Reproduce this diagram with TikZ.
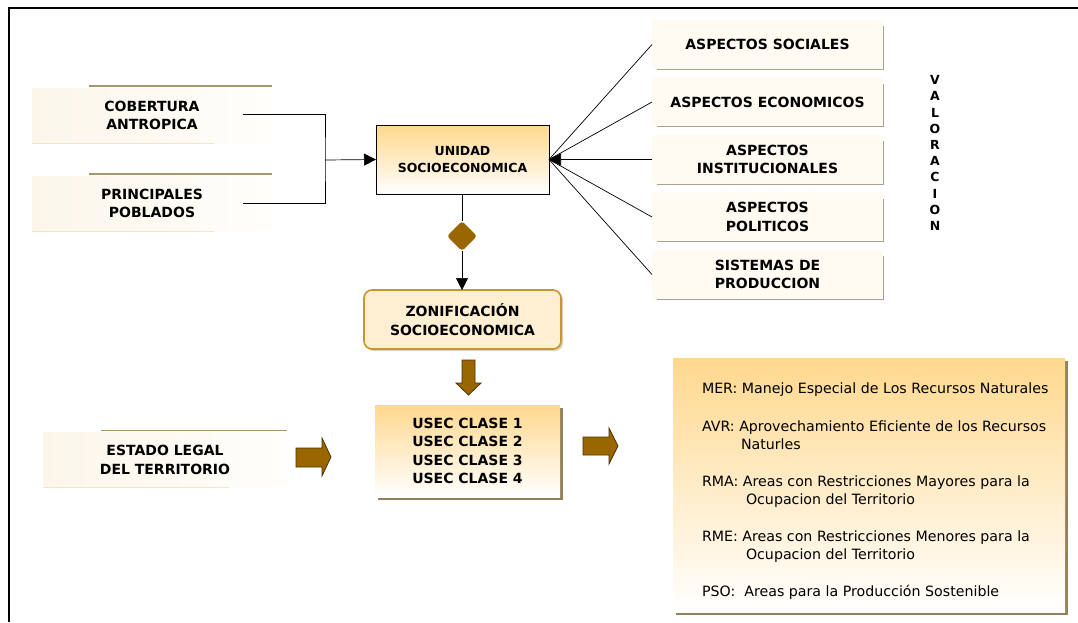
\documentclass[tikz,border=0pt]{standalone}
\usepackage{fontspec}
\setmainfont{DejaVu Sans}
\usetikzlibrary{arrows.meta,shapes.geometric,shadows,calc}
\definecolor{brownfill}{HTML}{996600}
\definecolor{arrowedge}{HTML}{4A3300}
\definecolor{orangetop}{HTML}{FFD88E}
\definecolor{creamL}{HTML}{FCF6EA}
\definecolor{creamR}{HTML}{FFFEFB}
\definecolor{aspfill}{HTML}{FFFBF3}
\definecolor{aspedge}{HTML}{A9A294}
\definecolor{zonfill}{HTML}{FFEFD2}
\definecolor{zonedge}{HTML}{C8962F}
\definecolor{shadowbrown}{HTML}{94805A}
\definecolor{tanline}{HTML}{A8956C}
\definecolor{paleline}{HTML}{F6E4C2}

\begin{document}
\begin{tikzpicture}[x=1pt,y=-1pt,
  every node/.style={inner sep=0pt, outer sep=0pt},
  big/.style={font=\fontsize{14}{18.5}\selectfont\bfseries, align=center},
  inbox/.style={big, minimum width=240pt, minimum height=55pt, left color=creamL, right color=creamR},
  aspect/.style={big, minimum width=231pt, minimum height=49pt, fill=aspfill, rounded corners=3pt},
  conn/.style={draw=black, line width=0.7pt},
  tipped/.style={-{Triangle[length=12pt,width=12pt]}},
  blockarrow/.style={fill=brownfill, draw=arrowedge, line width=0.8pt, line join=miter},
  legend/.style={font=\fontsize{14.2}{17}\selectfont, anchor=base west},
  brshadow/.style={drop shadow={shadow xshift=3pt, shadow yshift=-3pt, fill=shadowbrown, opacity=1}},
]
\useasboundingbox (0,0) rectangle (1078,622);
\fill[white] (0,0) rectangle (1078,622);

% outer frame (top and left edges)
\draw[line width=2pt] (9,622) -- (9,7.8) -- (1078,7.8);

% ---- input boxes on the left ----
\node[inbox] (cob) at (152,115.5) {COBERTURA\\ANTROPICA};
\node[inbox] (pob) at (152,203.5) {PRINCIPALES\\POBLADOS};
\node[inbox, minimum width=244pt] (est) at (165,460) {ESTADO LEGAL\\DEL TERRITORIO};
\foreach \n/\s in {cob/57, pob/57, est/58}{
  \draw[tanline, line width=1.3pt] ([xshift=\s pt, yshift=2pt]\n.north west) -- ([yshift=2pt]\n.north east);
  \draw[paleline, line width=1pt] (\n.south west) -- ([xshift=-58pt]\n.south east);
}

% ---- central unit ----
\node[big, font=\fontsize{12.5}{17}\selectfont\bfseries, draw=black, line width=0.8pt,
      top color=orangetop, bottom color=white,
      minimum width=173pt, minimum height=69pt] (uni) at (462.5,159.5) {UNIDAD\\SOCIOECONOMICA};

\coordinate (cobout) at (243,114);
\coordinate (pobout) at (243,203);
\coordinate (join) at (325,160);
\draw[conn] (cobout) -| (join) |- (pobout);
\draw[conn, tipped] (join) -- (uni.west);

% ---- aspects on the right ----
\node[aspect] (soc) at (767.5,44.5) {ASPECTOS SOCIALES};
\node[aspect] (eco) at (767.5,102) {ASPECTOS ECONOMICOS};
\node[aspect] (ins) at (767.5,159.5) {ASPECTOS\\INSTITUCIONALES};
\node[aspect] (pol) at (767.5,217) {ASPECTOS\\POLITICOS};
\node[aspect] (sis) at (767.5,274.5) {SISTEMAS DE\\PRODUCCION};
\foreach \n in {soc,eco,ins,pol,sis}{
  \draw[aspedge, line width=1pt] ([yshift=-6pt]\n.north east) -- (\n.south east) -- ([xshift=5pt]\n.south west);
}
\foreach \n in {soc,eco,pol,sis}{
  \draw[conn] (\n.west) -- (uni.east);
}
\draw[conn, tipped] (ins.west) -- (uni.east);

\node[font=\fontsize{12.5}{16.2}\selectfont\bfseries, align=center] (val) at (935,153)
  {V\\A\\L\\O\\R\\A\\C\\I\\O\\N};

% ---- zoning ----
\node[diamond, aspect=1, fill=brownfill, minimum width=30pt, minimum height=30pt] (dia) at (462,236) {};
\node[big, draw=zonedge, line width=1.6pt, fill=zonfill, rounded corners=8pt,
      drop shadow={shadow xshift=2pt, shadow yshift=-2pt, fill=shadowbrown, opacity=0.35},
      minimum width=197pt, minimum height=59pt] (zon) at (462.5,319.5) {ZONIFICACIÓN\\SOCIOECONOMICA};
\draw[conn] (uni.south -| dia.north) -- (dia.north);
\draw[conn, tipped] (dia.south) -- (dia.south |- zon.north);

% ---- classes ----
\node[big, top color=orangetop, bottom color=white, brshadow,
      minimum width=185pt, minimum height=92pt] (usec) at (467.5,451)
  {USEC CLASE 1\\USEC CLASE 2\\USEC CLASE 3\\USEC CLASE 4};

% block arrows
\draw[blockarrow] (462,360) -- (475,360) -- (475,383) -- (481,383) -- (468.5,395) -- (456,383) -- (462,383) -- cycle;
\draw[blockarrow] (296,448) -- (322,448) -- (322,438) -- (331,457) -- (322,476) -- (322,467) -- (296,467) -- cycle;
\draw[blockarrow] (583,437) -- (609,437) -- (609,428) -- (618,446) -- (609,464) -- (609,455) -- (583,455) -- cycle;

% ---- legend ----
\node[top color=orangetop, bottom color=white, brshadow,
      minimum width=392pt, minimum height=254pt] (leg) at (869,485) {};
\node[legend] (l1) at (702,393) {MER: Manejo Especial de Los Recursos Naturales};
\node[legend] (l2) at (702,431) {AVR: Aprovechamiento Eficiente de los Recursos};
\node[legend] (l3) at (741,449) {Naturles};
\node[legend] (l4) at (702,486) {RMA: Areas con Restricciones Mayores para la};
\node[legend] (l5) at (746,504) {Ocupacion del Territorio};
\node[legend] (l6) at (702,541) {RME: Areas con Restricciones Menores para la};
\node[legend] (l7) at (746,559) {Ocupacion del Territorio};
\node[legend] (l8) at (702,596) {PSO:\ \ Areas para la Producción Sostenible};
\end{tikzpicture}
\end{document}
